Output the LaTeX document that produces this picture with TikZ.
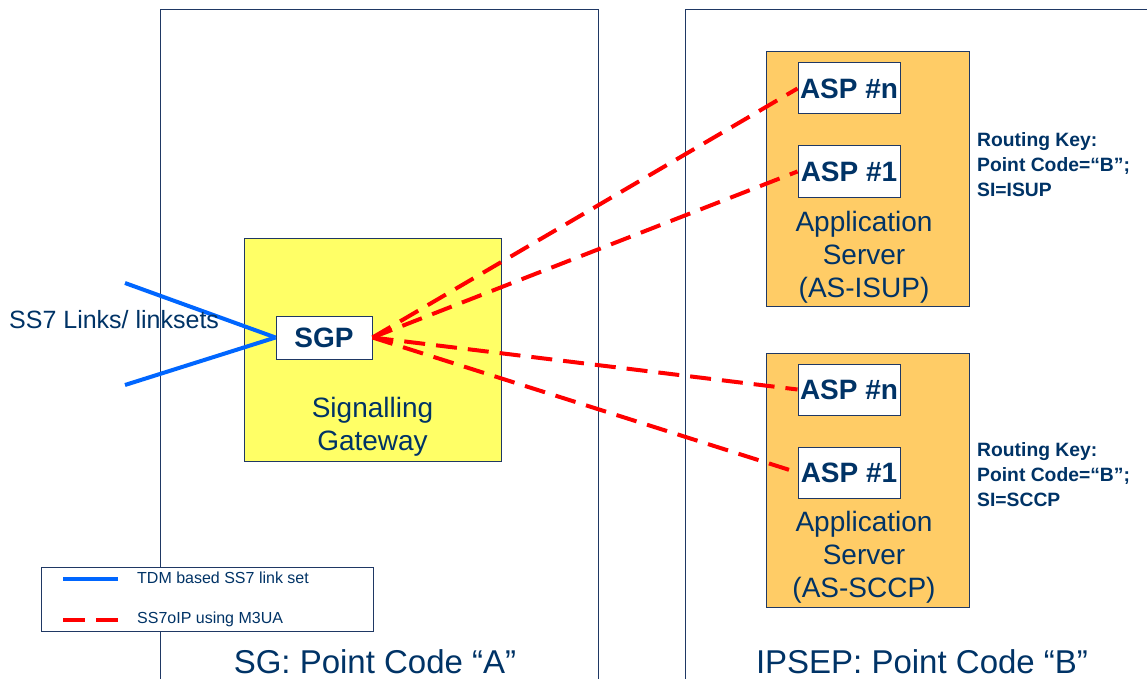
\documentclass[tikz,border=0pt]{standalone}
\usepackage{fontspec}
\setmainfont{Liberation Sans}
\definecolor{navy}{RGB}{0,51,102}
\definecolor{framec}{RGB}{31,56,100}
\definecolor{sgyellow}{RGB}{255,255,102}
\definecolor{asorange}{RGB}{255,204,102}
\definecolor{tdmblue}{RGB}{0,102,255}
\definecolor{ipred}{RGB}{255,0,0}
\begin{document}
\begin{tikzpicture}[x=1pt,y=-1pt,
  frame/.style={draw=framec,line width=1pt},
  gwbox/.style={frame,fill=sgyellow,minimum width=257pt,minimum height=223pt,inner sep=0pt},
  asbox/.style={frame,fill=asorange,minimum width=203pt,minimum height=254pt,inner sep=0pt},
  procbox/.style={frame,fill=white,inner sep=0pt,font=\fontsize{28}{33}\selectfont\bfseries,text=navy},
  bigtxt/.style={inner sep=0pt,text=navy,align=center,font=\fontsize{28}{33}\selectfont},
  keytxt/.style={inner sep=0pt,text=navy,align=left,anchor=west,font=\fontsize{19.3}{25}\selectfont\bfseries},
  tdm/.style={draw=tdmblue,line width=4pt},
  sigtran/.style={draw=ipred,line width=4pt,dash pattern=on 21pt off 11pt},
  legtxt/.style={inner sep=0pt,text=navy,anchor=west,font=\fontsize{16}{18}\selectfont},
  titletxt/.style={inner sep=0pt,text=navy,anchor=base,font=\fontsize{33}{38}\selectfont}]
\useasboundingbox (0,0) rectangle (1147,679);
% containers
\draw[frame] (160,690) -- (160,10) -- (598,10) -- (598,690);
\draw[frame] (685,690) -- (685,10) -- (1160,10);
% signalling gateway
\node[gwbox] (sg) at (372.5,349.5) {};
\node[procbox,minimum width=96pt,minimum height=43pt] (sgp) at (324,337.5) {SGP};
\node[bigtxt] (sgtxt) at (372.5,427) {Signalling\\Gateway};
% AS ISUP
\node[asbox] (as1) at (867.5,179) {};
\node[procbox,minimum width=102pt,minimum height=51pt] (asp1n) at (849,88.5) {ASP \#n};
\node[procbox,minimum width=102pt,minimum height=51pt] (asp11) at (849,171.5) {ASP \#1};
\node[bigtxt] (as1txt) at (864,257) {Application\\Server\\(AS-ISUP)};
\node[keytxt] (key1) at (977,165) {Routing Key:\\Point Code=“B”;\\SI=ISUP};
% AS SCCP
\node[asbox] (as2) at (867.5,480) {};
\node[procbox,minimum width=102pt,minimum height=51pt] (asp2n) at (849,389.5) {ASP \#n};
\node[procbox,minimum width=102pt,minimum height=51pt] (asp21) at (849,472.5) {ASP \#1};
\node[bigtxt] (as2txt) at (864,557) {Application\\Server\\(AS-SCCP)};
\node[keytxt] (key2) at (977,475) {Routing Key:\\Point Code=“B”;\\SI=SCCP};
% SS7 links
\coordinate (l1) at (125,283);
\coordinate (l2) at (125,385);
\draw[tdm] (l1) -- (sgp.west);
\draw[tdm] (l2) -- (sgp.west);
\node[inner sep=0pt,anchor=west,text=navy,font=\fontsize{25}{30}\selectfont] (ss7) at (9,320) {SS7 Links/ linksets};
% M3UA links
\draw[sigtran] (sgp.east) -- (asp1n.west);
\draw[sigtran] (sgp.east) -- (asp11.west);
\draw[sigtran] (sgp.east) -- (asp2n.west);
\draw[sigtran] (sgp.east) -- (asp21.west);
% legend
\node[frame,fill=white,minimum width=332pt,minimum height=64pt,inner sep=0pt] (leg) at (207,599) {};
\coordinate (lb1) at (63,579);
\coordinate (lb2) at (118,579);
\coordinate (lr1) at (63,620);
\coordinate (lr2) at (118,620);
\draw[tdm] (lb1) -- (lb2);
\draw[draw=ipred,line width=4pt,dash pattern=on 22pt off 11pt] (lr1) -- (lr2);
\node[legtxt] (lt1) at (137,578) {TDM based SS7 link set};
\node[legtxt] (lt2) at (137,619) {SS7oIP using M3UA};
% titles
\node[titletxt] (pca) at (375,673) {SG: Point Code “A”};
\node[titletxt] (pcb) at (922,673) {IPSEP: Point Code “B”};
\end{tikzpicture}
\end{document}
